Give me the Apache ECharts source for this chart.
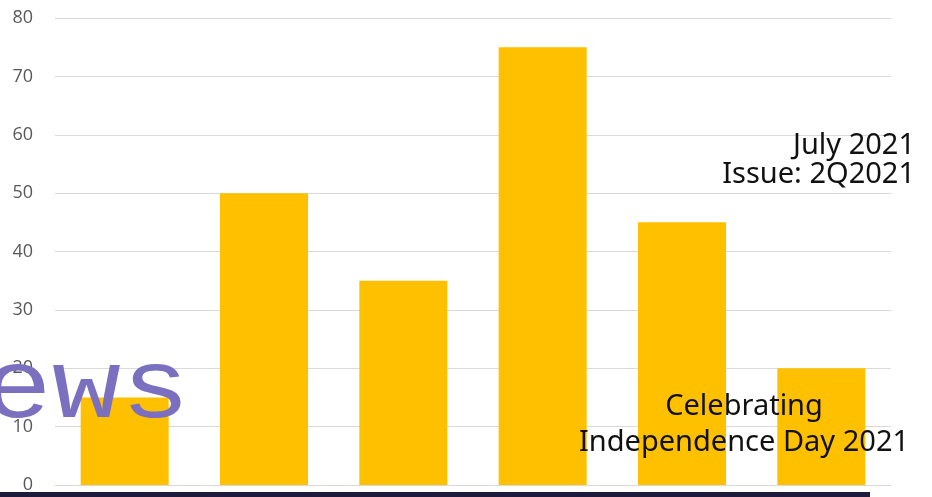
<!DOCTYPE html>
<html>
<head>
<meta charset="utf-8">
<script src="https://cdn.jsdelivr.net/npm/echarts@6/dist/echarts.min.js"></script>
<style>
html,body{margin:0;padding:0;background:#fff;}
#chart{width:932px;height:497px;}
</style>
</head>
<body>
<div id="chart"></div>
<script>
// categories have no visible labels in the picture
var categories = ['1', '2', '3', '4', '5', '6'];
var values = [15, 50, 35, 75, 45, 20];
var yTicks = [0, 10, 20, 30, 40, 50, 60, 70, 80];

var myChart = echarts.init(document.getElementById('chart'));

// overlay texts sitting on top of the chart
function overlayText(txt, x, y, align) {
    return {
        type: 'text',
        x: x,
        y: y,
        style: {
            text: txt,
            fill: '#111',
            fontFamily: 'Noto Sans',
            fontSize: 29,
            align: align,
            verticalAlign: 'bottom'
        },
        z: 100
    };
}

var option = {
    animation: false,
    grid: {
        left: 55,
        right: 41,
        top: 18,
        bottom: 12
    },
    xAxis: {
        type: 'category',
        data: categories,
        axisLine: { show: true, lineStyle: { color: '#d9d9d9', width: 1 } },
        axisTick: { show: false },
        axisLabel: { show: false }
    },
    yAxis: {
        type: 'value',
        min: yTicks[0],
        max: yTicks[yTicks.length - 1],
        interval: 10,
        axisLine: { show: false },
        axisTick: { show: false },
        axisLabel: {
            color: '#595959',
            fontSize: 18,
            fontFamily: 'Open Sans',
            margin: 22
        },
        splitLine: { lineStyle: { color: '#d9d9d9', width: 1 } }
    },
    series: [{
        type: 'bar',
        data: values,
        barWidth: 88,
        itemStyle: { color: '#ffc000' }
    }],
    graphic: [
        {
            type: 'rect',
            x: 0,
            y: 492,
            shape: { width: 870, height: 5 },
            style: { fill: '#1e1b3d' },
            z: 100
        },
        {
            type: 'text',
            x: -17,
            y: 440,
            scaleY: 0.85,
            style: {
                text: 'ews',
                fill: '#7b6fc0',
                fontFamily: 'Liberation Mono',
                fontSize: 115,
                verticalAlign: 'bottom'
            },
            z: 100
        },
        overlayText('July 2021', 915, 160, 'right'),
        overlayText('Issue: 2Q2021', 915, 189, 'right'),
        overlayText('Celebrating', 744, 421, 'center'),
        overlayText('Independence Day 2021', 744, 457, 'center')
    ]
};
myChart.setOption(option);
</script>
</body>
</html>
